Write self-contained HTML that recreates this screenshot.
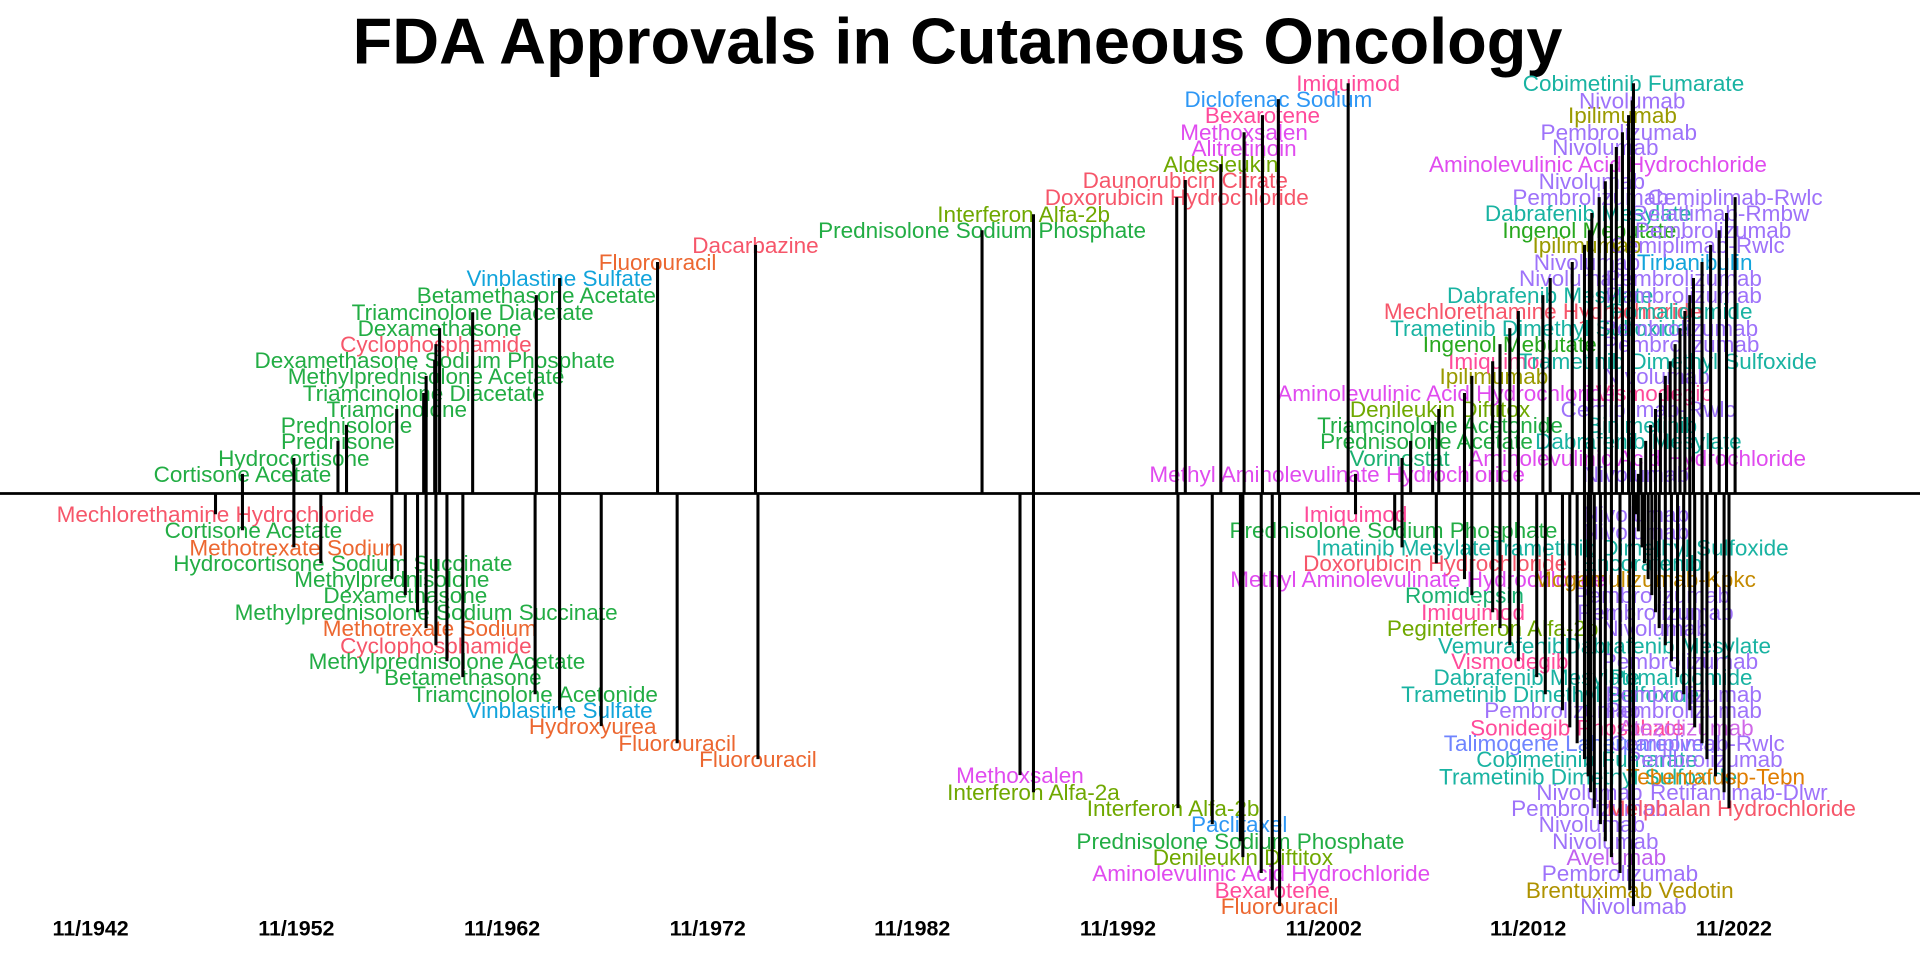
<!DOCTYPE html>
<html><head><meta charset="utf-8"><style>
html,body{margin:0;padding:0;background:#fff;}
svg{display:block;}
text{font-family:"Liberation Sans",Arial,sans-serif;font-size:18.4px;text-anchor:middle;}
.G{fill:#22AD44}.G2{fill:#28A81E}.R{fill:#F6566A}.O{fill:#EC6730}.B{fill:#12A4DB}.Bl{fill:#2E97F5}
.Ol{fill:#6FA800}.M{fill:#E04BEF}.Pk{fill:#FF4A9A}.T{fill:#19B3A2}.P{fill:#9E72FA}.Ip{fill:#9A9A00}
.Ro{fill:#1AB070}.Ta{fill:#6F84FF}.Av{fill:#C060F0}.Br{fill:#AE9200}.Mo{fill:#C48A00}.Tb{fill:#E07D00}.At{fill:#D068E8}
.ax{font-weight:bold;font-size:17.5px}
</style></head><body>
<svg width="1920" height="960" viewBox="0 0 1568 784" xmlns="http://www.w3.org/2000/svg">
<rect width="1568" height="784" fill="#fff"/>
<text x="782" y="52" style="font-size:53px;font-weight:bold">FDA Approvals in Cutaneous Oncology</text>
<g transform="translate(0,6.5)">
<text class="G" x="198" y="387">Cortisone Acetate</text>
<text class="G" x="240" y="374">Hydrocortisone</text>
<text class="G" x="276" y="360">Prednisone</text>
<text class="G" x="283" y="347">Prednisolone</text>
<text class="G" x="324" y="334">Triamcinolone</text>
<text class="G" x="346" y="321">Triamcinolone Diacetate</text>
<text class="G" x="348" y="307">Methylprednisolone Acetate</text>
<text class="G" x="355" y="294">Dexamethasone Sodium Phosphate</text>
<text class="R" x="356" y="281">Cyclophosphamide</text>
<text class="G" x="359" y="268">Dexamethasone</text>
<text class="G" x="386" y="255">Triamcinolone Diacetate</text>
<text class="G" x="438" y="241">Betamethasone Acetate</text>
<text class="B" x="457" y="227">Vinblastine Sulfate</text>
<text class="O" x="537" y="214">Fluorouracil</text>
<text class="R" x="617" y="200">Dacarbazine</text>
<text class="G" x="802" y="188">Prednisolone Sodium Phosphate</text>
<text class="Ol" x="836" y="175">Interferon Alfa-2b</text>
<text class="R" x="961" y="161">Doxorubicin Hydrochloride</text>
<text class="R" x="968" y="147">Daunorubicin Citrate</text>
<text class="Ol" x="997" y="134">Aldesleukin</text>
<text class="M" x="1016" y="121">Alitretinoin</text>
<text class="M" x="1016" y="108">Methoxsalen</text>
<text class="Pk" x="1031" y="94">Bexarotene</text>
<text class="Bl" x="1044" y="81">Diclofenac Sodium</text>
<text class="Pk" x="1101" y="68">Imiquimod</text>
<text class="M" x="1092" y="387">Methyl Aminolevulinate Hydrochloride</text>
<text class="Ro" x="1143" y="374">Vorinostat</text>
<text class="G" x="1165" y="360">Prednisolone Acetate</text>
<text class="G" x="1176" y="347">Triamcinolone Acetonide</text>
<text class="Ol" x="1176" y="334">Denileukin Diftitox</text>
<text class="M" x="1181" y="321">Aminolevulinic Acid Hydrochloride</text>
<text class="Ip" x="1220" y="307">Ipilimumab</text>
<text class="Pk" x="1225" y="295">Imiquimod</text>
<text class="G2" x="1233" y="281">Ingenol Mebutate</text>
<text class="T" x="1257" y="268">Trametinib Dimethyl Sulfoxide</text>
<text class="R" x="1260" y="254">Mechlorethamine Hydrochloride</text>
<text class="T" x="1266" y="241">Dabrafenib Mesylate</text>
<text class="P" x="1284" y="227">Nivolumab</text>
<text class="P" x="1296" y="214">Nivolumab</text>
<text class="Ip" x="1296" y="200">Ipilimumab</text>
<text class="G2" x="1298" y="188">Ingenol Mebutate</text>
<text class="T" x="1297" y="174">Dabrafenib Mesylate</text>
<text class="P" x="1299" y="161">Pembrolizumab</text>
<text class="P" x="1300" y="148">Nivolumab</text>
<text class="M" x="1305" y="134">Aminolevulinic Acid Hydrochloride</text>
<text class="P" x="1311" y="120">Nivolumab</text>
<text class="P" x="1322" y="108">Pembrolizumab</text>
<text class="Ip" x="1325" y="94">Ipilimumab</text>
<text class="P" x="1333" y="82">Nivolumab</text>
<text class="T" x="1334" y="68">Cobimetinib Fumarate</text>
<text class="P" x="1336" y="387">Nivolumab</text>
<text class="M" x="1337" y="374">Aminolevulinic Acid Hydrochloride</text>
<text class="T" x="1338" y="360">Dabrafenib Mesylate</text>
<text class="T" x="1341" y="347">Binimetinib</text>
<text class="P" x="1346" y="334">Cemiplimab-Rwlc</text>
<text class="Pk" x="1351" y="321">Vismodegib</text>
<text class="P" x="1353" y="307">Nivolumab</text>
<text class="T" x="1362" y="295">Trametinib Dimethyl Sulfoxide</text>
<text class="P" x="1373" y="281">Pembrolizumab</text>
<text class="P" x="1372" y="268">Pembrolizumab</text>
<text class="T" x="1373" y="254">Pomalidomide</text>
<text class="P" x="1375" y="241">Pembrolizumab</text>
<text class="P" x="1375" y="227">Pembrolizumab</text>
<text class="B" x="1384" y="214">Tirbanibulin</text>
<text class="P" x="1386" y="200">Cemiplimab-Rwlc</text>
<text class="P" x="1399" y="188">Pembrolizumab</text>
<text class="P" x="1405" y="174">Relatlimab-Rmbw</text>
<text class="P" x="1417" y="161">Cemiplimab-Rwlc</text>

<text class="R" x="176" y="420">Mechlorethamine Hydrochloride</text>
<text class="G" x="207" y="433">Cortisone Acetate</text>
<text class="O" x="242" y="447">Methotrexate Sodium</text>
<text class="G" x="280" y="460">Hydrocortisone Sodium Succinate</text>
<text class="G" x="320" y="473">Methylprednisolone</text>
<text class="G" x="331" y="486">Dexamethasone</text>
<text class="G" x="348" y="500">Methylprednisolone Sodium Succinate</text>
<text class="O" x="351" y="513">Methotrexate Sodium</text>
<text class="R" x="356" y="527">Cyclophosphamide</text>
<text class="G" x="365" y="540">Methylprednisolone Acetate</text>
<text class="G" x="378" y="553">Betamethasone</text>
<text class="G" x="437" y="567">Triamcinolone Acetonide</text>
<text class="B" x="457" y="580">Vinblastine Sulfate</text>
<text class="O" x="484" y="593">Hydroxyurea</text>
<text class="O" x="553" y="607">Fluorouracil</text>
<text class="O" x="619" y="620">Fluorouracil</text>
<text class="M" x="833" y="633">Methoxsalen</text>
<text class="Ol" x="844" y="647">Interferon Alfa-2a</text>
<text class="Ol" x="958" y="660">Interferon Alfa-2b</text>
<text class="Bl" x="1012" y="673">Paclitaxel</text>
<text class="G" x="1013" y="687">Prednisolone Sodium Phosphate</text>
<text class="Ol" x="1015" y="700">Denileukin Diftitox</text>
<text class="M" x="1030" y="713">Aminolevulinic Acid Hydrochloride</text>
<text class="Pk" x="1039" y="727">Bexarotene</text>
<text class="O" x="1045" y="740">Fluorouracil</text>
<text class="Pk" x="1107" y="420">Imiquimod</text>
<text class="G" x="1138" y="433">Prednisolone Sodium Phosphate</text>
<text class="T" x="1146" y="447">Imatinib Mesylate</text>
<text class="R" x="1172" y="460">Doxorubicin Hydrochloride</text>
<text class="M" x="1158" y="473">Methyl Aminolevulinate Hydrochloride</text>
<text class="Ro" x="1196" y="486">Romidepsin</text>
<text class="Pk" x="1203" y="500">Imiquimod</text>
<text class="Ol" x="1219" y="513">Peginterferon Alfa-2b</text>
<text class="T" x="1226" y="527">Vemurafenib</text>
<text class="Pk" x="1233" y="540">Vismodegib</text>
<text class="T" x="1255" y="553">Dabrafenib Mesylate</text>
<text class="T" x="1266" y="567">Trametinib Dimethyl Sulfoxide</text>
<text class="P" x="1276" y="580">Pembrolizumab</text>
<text class="Pk" x="1288" y="594">Sonidegib Phosphate</text>
<text class="Ta" x="1290" y="607">Talimogene Laherparepvec</text>
<text class="T" x="1296" y="620">Cobimetinib Fumarate</text>
<text class="T" x="1297" y="634">Trametinib Dimethyl Sulfoxide</text>
<text class="P" x="1298" y="647">Nivolumab</text>
<text class="P" x="1298" y="660">Pembrolizumab</text>
<text class="P" x="1300" y="673">Nivolumab</text>
<text class="P" x="1311" y="687">Nivolumab</text>
<text class="Av" x="1320" y="700">Avelumab</text>
<text class="P" x="1323" y="713">Pembrolizumab</text>
<text class="Br" x="1331" y="727">Brentuximab Vedotin</text>
<text class="P" x="1334" y="740">Nivolumab</text>
<text class="P" x="1336" y="420">Nivolumab</text>
<text class="P" x="1336" y="434">Nivolumab</text>
<text class="T" x="1339" y="447">Trametinib Dimethyl Sulfoxide</text>
<text class="T" x="1341" y="460">Encorafenib</text>
<text class="Mo" x="1343" y="473">Mogamulizumab-Kpkc</text>
<text class="P" x="1349" y="486">Pembrolizumab</text>
<text class="P" x="1352" y="500">Pembrolizumab</text>
<text class="P" x="1352" y="513">Nivolumab</text>
<text class="T" x="1362" y="527">Dabrafenib Mesylate</text>
<text class="P" x="1372" y="540">Pembrolizumab</text>
<text class="T" x="1373" y="553">Pomalidomide</text>
<text class="P" x="1375" y="567">Pembrolizumab</text>
<text class="P" x="1375" y="580">Pembrolizumab</text>
<text class="At" x="1377" y="594">Atezolizumab</text>
<text class="P" x="1386" y="607">Cemiplimab-Rwlc</text>
<text class="P" x="1392" y="620">Pembrolizumab</text>
<text class="Tb" x="1401" y="634">Tebentafusp-Tebn</text>
<text class="P" x="1420" y="647">Retifanlimab-Dlwr</text>
<text class="R" x="1414" y="660">Melphalan Hydrochloride</text>
</g>
<path fill="none" stroke="#000" stroke-width="2.5" d="
M198 403V387M240 403V374M276 403V360M283 403V347M324 403V334M346 403V321M348 403V307M355 403V294M356 403V281M359 403V268M386 403V255M438 403V241M457 403V227M537 403V214M617 403V200M802 403V188M844 403V175M961 403V161M968 403V147M997 403V134M1016 403V108M1031 403V94M1044 403V81M1101 403V68
M1107 403V387M1145 403V374M1152 403V360M1170 403V347M1175 403V334M1196 403V321M1202 403V307M1219 403V295M1225 403V281M1233 403V268M1240 403V254M1260 403V241M1266 403V227M1284 403V214M1294 403V200M1298 403V188M1300 403V174M1306 403V161M1311 403V148M1316 403V134M1320 403V120M1325 403V108M1330 403V94M1333 403V82M1334 403V68
M1338 403V387M1340 403V374M1344 403V360M1348 403V347M1352 403V334M1356 403V321M1360 403V307M1364 403V295M1368 403V281M1372 403V268M1376 403V254M1380 403V241M1383 403V227M1390 403V214M1397 403V200M1404 403V188M1410 403V174M1417 403V161
M176 403V420M198 403V433M240 403V447M262 403V460M320 403V473M331 403V486M341 403V500M348 403V513M356 403V527M365 403V540M378 403V553M437 403V567M457 403V580M491 403V593M553 403V607M619 403V620M833 403V633M844 403V647M962 403V660M990 403V673M1013 403V687M1015 403V700M1030 403V713M1039 403V727M1045 403V740
M1107 403V420M1139 403V433M1145 403V447M1173 403V460M1196 403V473M1202 403V486M1219 403V500M1225 403V513M1233 403V527M1240 403V540M1255 403V553M1262 403V567M1276 403V580M1282 403V594M1288 403V607M1294 403V620M1297 403V634M1299 403V647M1302 403V660M1307 403V673M1311 403V687M1316 403V700M1323 403V713M1331 403V727M1334 403V740
M1336 403V420M1338 403V434M1341 403V447M1343 403V460M1346 403V473M1349 403V486M1352 403V500M1355 403V513M1360 403V527M1365 403V540M1370 403V553M1375 403V567M1380 403V580M1384 403V594M1390 403V607M1394 403V620M1401 403V634M1408 403V647M1412 403V660"/>
<line x1="0" y1="403" x2="1568" y2="403" stroke="#000" stroke-width="2.2"/>
<g>
<text class="ax" x="74" y="764">11/1942</text>
<text class="ax" x="242" y="764">11/1952</text>
<text class="ax" x="410" y="764">11/1962</text>
<text class="ax" x="578" y="764">11/1972</text>
<text class="ax" x="745" y="764">11/1982</text>
<text class="ax" x="913" y="764">11/1992</text>
<text class="ax" x="1081" y="764">11/2002</text>
<text class="ax" x="1248" y="764">11/2012</text>
<text class="ax" x="1416" y="764">11/2022</text>
</g>
</svg>
</body></html>
